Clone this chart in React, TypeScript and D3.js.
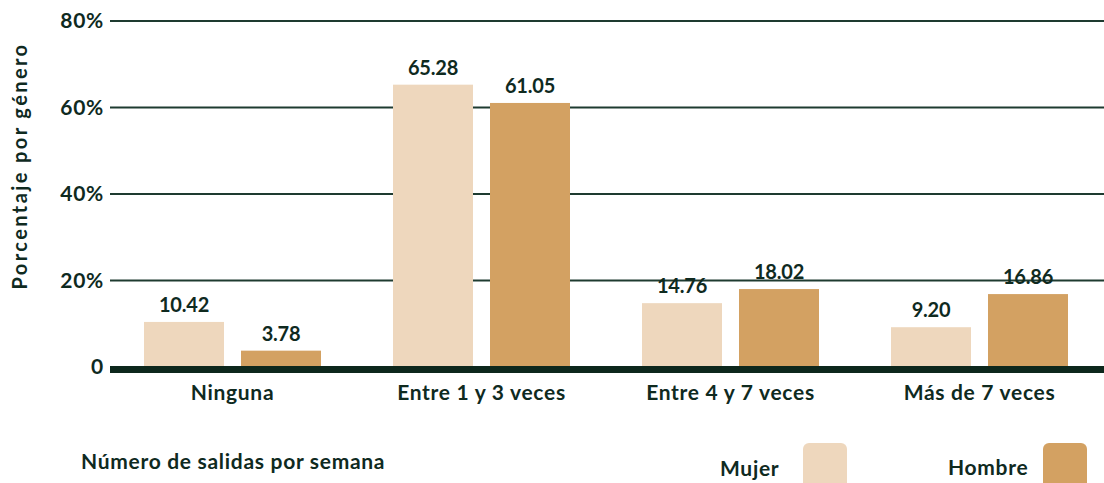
import React from "react";
import * as d3 from "d3";

const categories = ["Ninguna", "Entre 1 y 3 veces", "Entre 4 y 7 veces", "Más de 7 veces"];
const seriesNames = ["Mujer", "Hombre"];
const mujerValues = [10.42, 65.28, 14.76, 9.2];
const hombreValues = [3.78, 61.05, 18.02, 16.86];
const yTicks = [0, 20, 40, 60, 80];
const colors = ["#EED7BD", "#D3A162"];

const W = 1104;
const H = 483;
const TEXT = "#0F2A1F";
const FONT = "Lato, 'Open Sans', sans-serif";

export default function App() {
  const x = d3.scaleBand<string>().domain(categories).range([108, 1104]).padding(0);
  const bw = x.bandwidth();
  const xSub = d3
    .scaleBand<string>()
    .domain(seriesNames)
    .range([bw / 2 - 88.5, bw / 2 + 88.5])
    .paddingInner(17 / 97)
    .paddingOuter(0);
  const y = d3.scaleLinear().domain([0, 80]).range([367, 21]);
  const values = [mujerValues, hombreValues];
  const fmt = d3.format(".2f");

  const label = { fontSize: 21, fontWeight: 700, fill: TEXT, letterSpacing: 0.7 } as const;

  return (
    <svg
      width={W}
      height={H}
      style={{ position: "absolute", left: 0, top: 0, display: "block", background: "#fff" }}
      fontFamily={FONT}
    >
      {/* gridlines */}
      {yTicks
        .filter((t) => t > 0)
        .map((t) => (
          <line key={t} x1={110} x2={W} y1={y(t)} y2={y(t)} stroke="#1E3B30" strokeWidth={2} />
        ))}
      {/* tick labels */}
      {yTicks.map((t) => (
        <text
          key={"l" + t}
          x={104}
          y={y(t) + 2}
          textAnchor="end"
          dominantBaseline="middle"
          fontSize={21}
          fontWeight={700}
          letterSpacing={0.7}
          fill={TEXT}
        >
          {t === 0 ? "0" : t + "%"}
        </text>
      ))}
      {/* bars */}
      {categories.map((c, i) => (
        <g key={c} transform={`translate(${x(c)},0)`}>
          {seriesNames.map((s, j) => {
            const v = values[j][i];
            const bx = xSub(s)!;
            return (
              <g key={s}>
                <rect x={bx} y={y(v)} width={xSub.bandwidth()} height={y(0) - y(v)} fill={colors[j]} />
                <text
                  x={bx + xSub.bandwidth() / 2}
                  y={y(v) - 10}
                  textAnchor="middle"
                  fontSize={20}
                  fontWeight={700}
                  letterSpacing={-0.2}
                  fill={TEXT}
                >
                  {fmt(v)}
                </text>
              </g>
            );
          })}
          <text x={bw / 2} y={400} textAnchor="middle" {...label}>
            {c}
          </text>
        </g>
      ))}
      {/* zero line */}
      <rect x={110} y={y(0) - 1} width={W - 110} height={7} fill="#0D271C" />
      {/* y title */}
      <text
        transform={`translate(27,166) rotate(-90)`}
        textAnchor="middle"
        fontSize={20}
        fontWeight={700}
        letterSpacing={2.4}
        fill={TEXT}
      >
        Porcentaje por género
      </text>
      {/* x title */}
      <text x={81} y={469} {...label}>
        Número de salidas por semana
      </text>
      {/* legend */}
      <text x={720} y={476} {...label}>
        {seriesNames[0]}
      </text>
      <rect x={803} y={443} width={44} height={48} rx={6} fill={colors[0]} />
      <text x={948} y={475} {...label}>
        {seriesNames[1]}
      </text>
      <rect x={1043} y={443} width={44} height={48} rx={6} fill={colors[1]} />
    </svg>
  );
}
